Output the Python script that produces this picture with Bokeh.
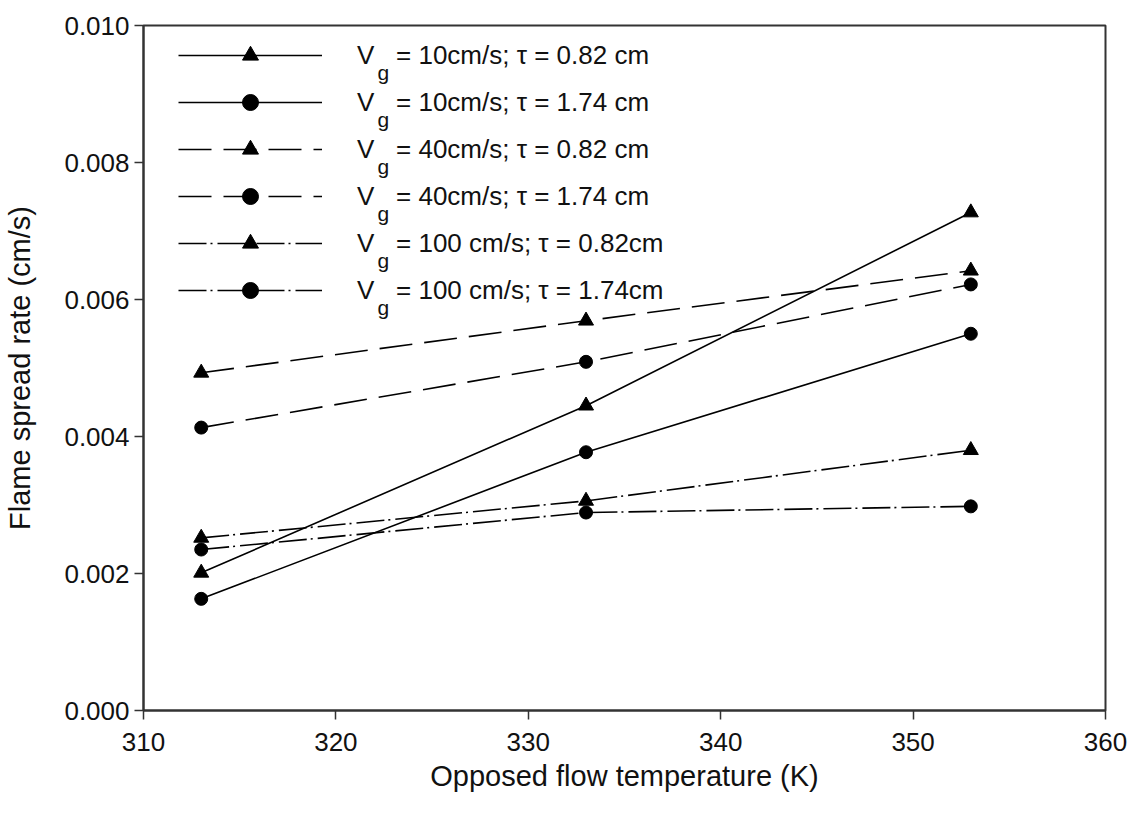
from bokeh.plotting import figure
from bokeh.models import Range1d, FixedTicker, NumeralTickFormatter, Legend, LegendItem, Label
from bokeh.embed import file_html
from bokeh.resources import INLINE

# ---- data ----
temperature = [313, 333, 353]
v10_t082 = [0.00201, 0.00445, 0.00727]
v10_t174 = [0.00163, 0.00377, 0.00550]
v40_t082 = [0.00493, 0.00569, 0.00642]
v40_t174 = [0.00413, 0.00509, 0.00622]
v100_t082 = [0.00252, 0.00306, 0.00380]
v100_t174 = [0.00235, 0.00289, 0.00298]

legend_labels = [
    "V   = 10cm/s; \u03c4 = 0.82 cm",
    "V   = 10cm/s; \u03c4 = 1.74 cm",
    "V   = 40cm/s; \u03c4 = 0.82 cm",
    "V   = 40cm/s; \u03c4 = 1.74 cm",
    "V   = 100 cm/s; \u03c4 = 0.82cm",
    "V   = 100 cm/s; \u03c4 = 1.74cm",
]
x_ticks = [310, 320, 330, 340, 350, 360]
y_ticks = [0.000, 0.002, 0.004, 0.006, 0.008, 0.010]

series = [v10_t082, v10_t174, v40_t082, v40_t174, v100_t082, v100_t174]
markers = ["triangle", "circle", "triangle", "circle", "triangle", "circle"]
dashes = ["solid", "solid", "33 12", "33 12", "28 4 2 5", "28 4 2 5"]

FONT = "Liberation Sans"
INK = "#111111"

p = figure(width=1133, height=823, output_backend="svg", toolbar_location=None,
           x_range=Range1d(310, 360), y_range=Range1d(0, 0.010),
           min_border_left=143, min_border_right=28, min_border_top=25, min_border_bottom=113,
           background_fill_color="white", border_fill_color="white")

p.grid.visible = False
p.outline_line_color = "#333333"
p.outline_line_width = 2

for ax in (p.xaxis[0], p.yaxis[0]):
    ax.axis_line_color = "#333333"
    ax.axis_line_width = 2
    ax.major_tick_line_color = "#333333"
    ax.major_tick_line_width = 1.5
    ax.major_tick_out = 9
    ax.major_tick_in = 0
    ax.minor_tick_line_color = None
    ax.major_label_text_font = FONT
    ax.major_label_text_font_size = "26px"
    ax.major_label_text_color = INK
    ax.axis_label_text_font = FONT
    ax.axis_label_text_font_size = "29px"
    ax.axis_label_text_font_style = "normal"
    ax.axis_label_text_color = INK

p.xaxis.ticker = FixedTicker(ticks=x_ticks)
p.yaxis.ticker = FixedTicker(ticks=y_ticks)
p.yaxis.formatter = NumeralTickFormatter(format="0.000")
p.xaxis.axis_label = "Opposed flow temperature (K)"
p.yaxis.axis_label = "Flame spread rate (cm/s)"
p.xaxis.major_label_standoff = 13
p.xaxis.axis_label_standoff = 6
p.yaxis.major_label_standoff = 5
p.yaxis.axis_label_standoff = 25

items = []
for ys, mk, dash, lab in zip(series, markers, dashes, legend_labels):
    lr = p.line(temperature, ys, line_color="black", line_width=1.6, line_dash=dash)
    sr = p.scatter(temperature, ys, marker=mk, size=15 if mk == "triangle" else 13,
                   fill_color="black", line_color="black")
    items.append(LegendItem(label=lab, renderers=[lr, sr]))

ROW_H = 40
SPACING = 7
legend = Legend(items=items, location=(35, 400), margin=0, padding=0,
                glyph_width=144, glyph_height=ROW_H, label_height=ROW_H,
                label_standoff=35, spacing=SPACING,
                border_line_color=None, background_fill_alpha=0,
                label_text_font=FONT, label_text_font_size="26px",
                label_text_color=INK)
p.add_layout(legend)

# subscript "g" of V_g in each legend row
for i in range(len(legend_labels)):
    p.add_layout(Label(x=234, y=638 - (ROW_H + SPACING) * i, x_units="screen", y_units="screen",
                       text="g", text_font=FONT, text_font_size="21px",
                       text_baseline="alphabetic", text_color=INK))

open("out.html", "w").write(file_html(p, INLINE))
